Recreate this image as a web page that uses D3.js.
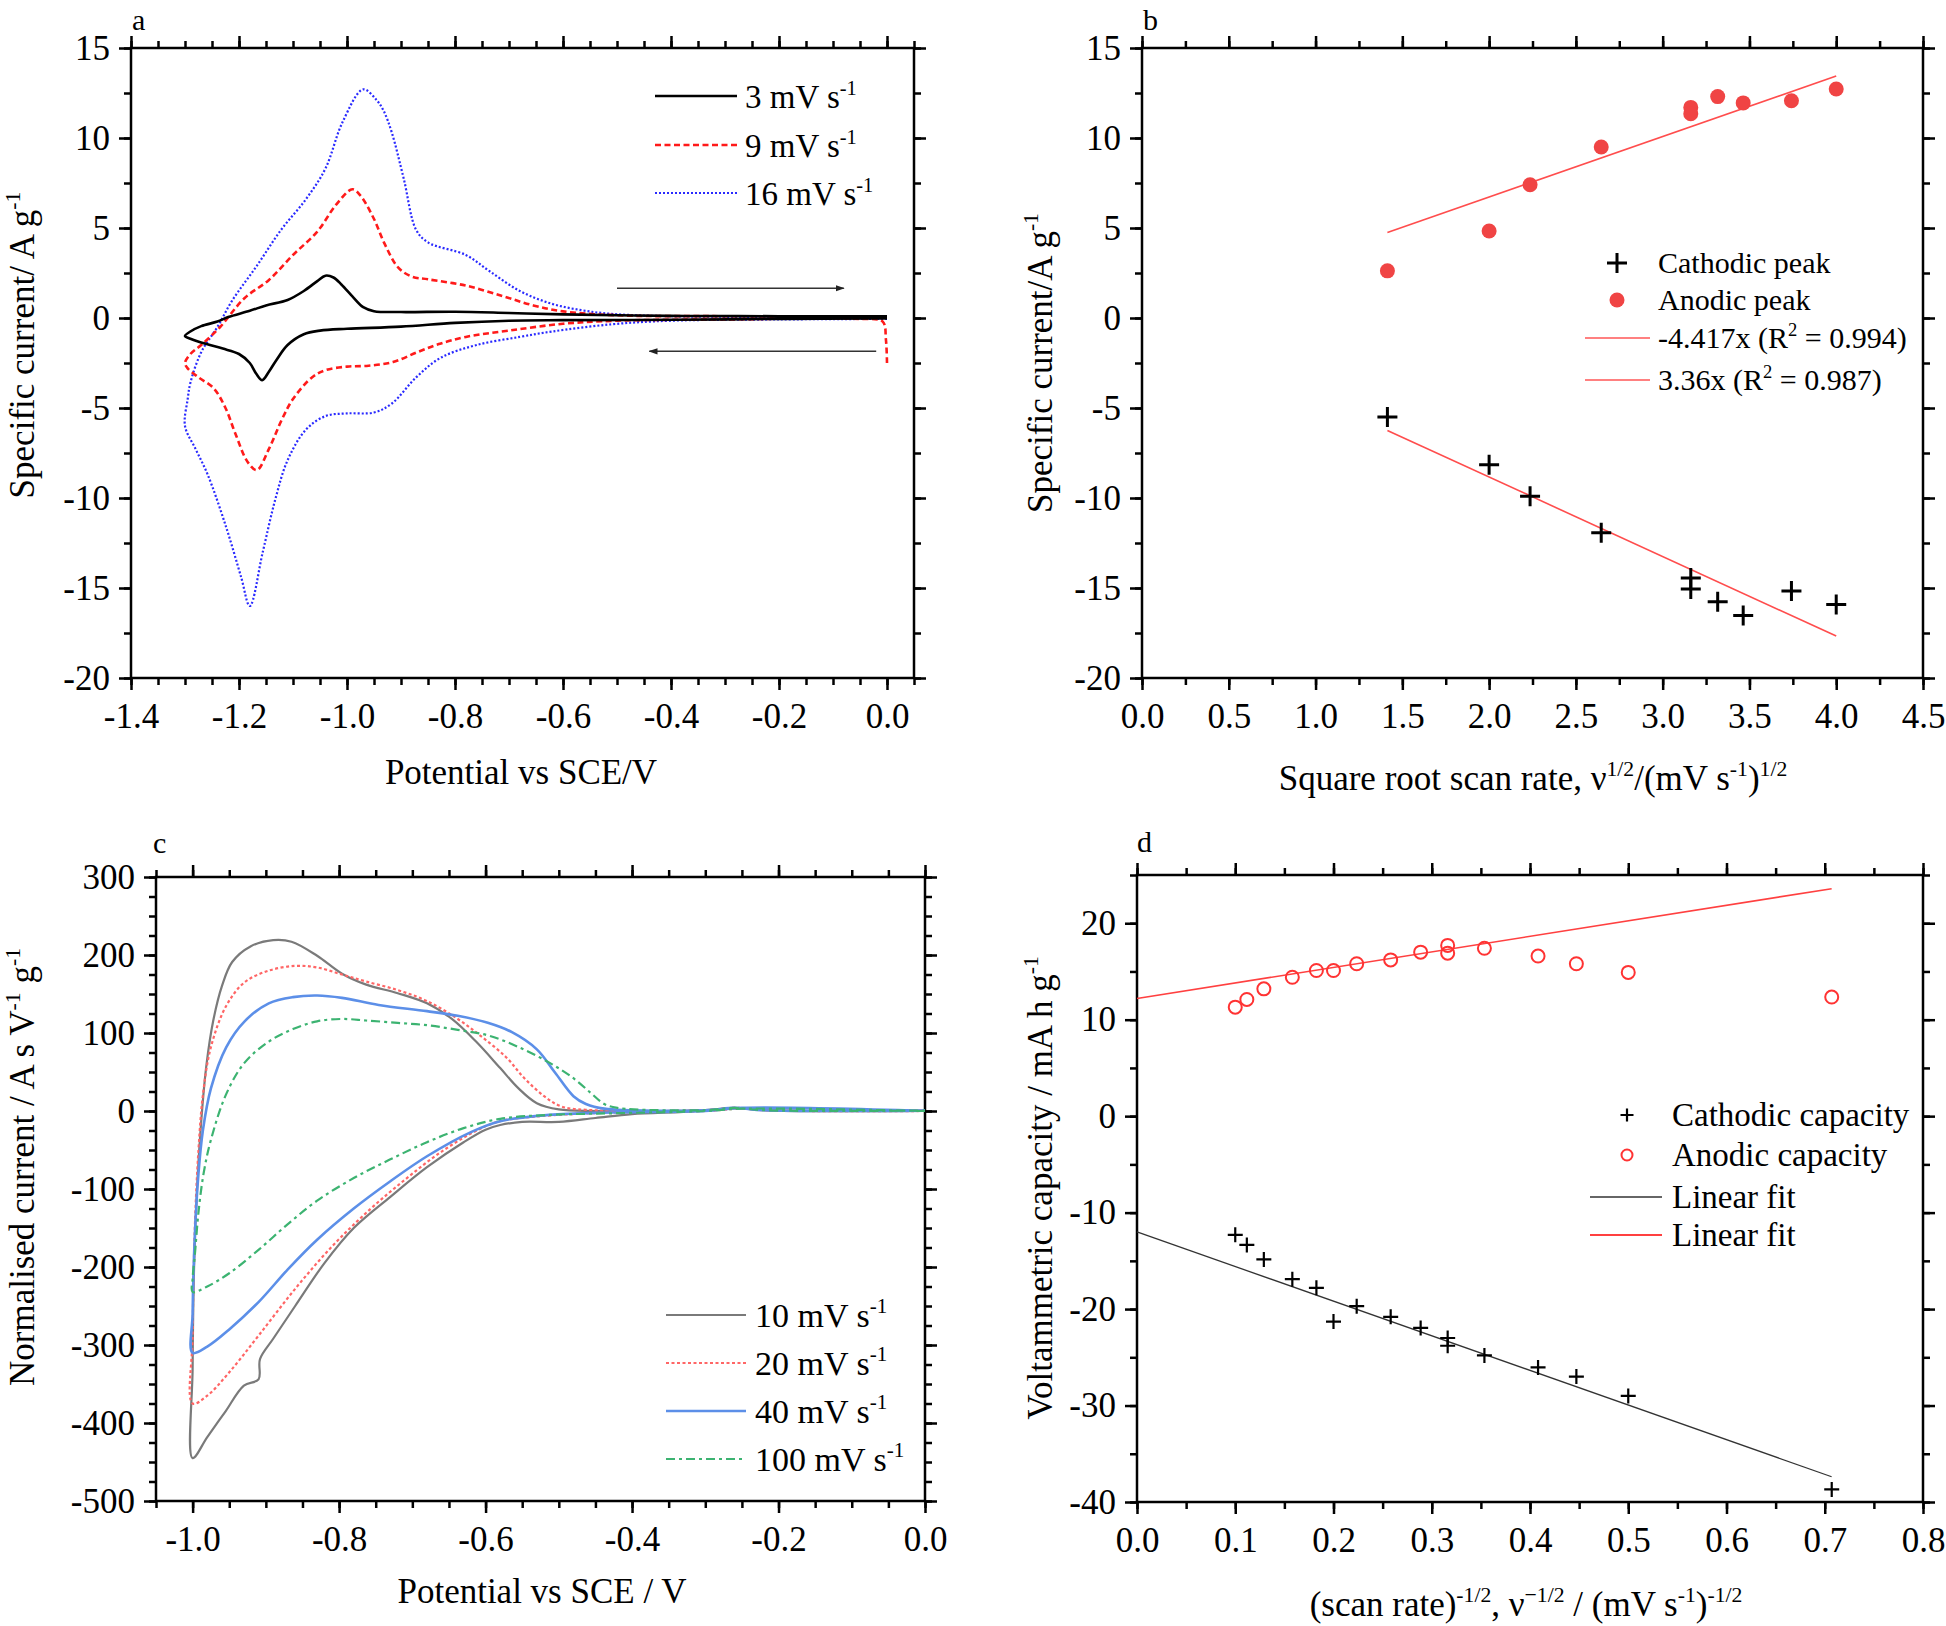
<!DOCTYPE html>
<html>
<head>
<meta charset="utf-8">
<script src="https://cdn.jsdelivr.net/npm/d3@7"></script>
<style>
  body { margin: 0; background: #fff; }
  svg { display: block; font-family: "Liberation Serif", "Times New Roman", serif; }
</style>
</head>
<body>
<div id="chart"></div>
<script>
// ---------- panel a : CV at 3, 9, 16 mV/s ([potential V, current A/g]) ----------
const aXTicks = [-1.4, -1.2, -1.0, -0.8, -0.6, -0.4, -0.2, 0.0];
const aYTicks = [-20, -15, -10, -5, 0, 5, 10, 15];
const aLabels = ['3', '9', '16'];
const cv3 = [
  [0, -0.02], [-0.2, -0.05], [-0.4, -0.1], [-0.6, -0.12], [-0.7, -0.15], [-0.8, -0.27], [-0.9, -0.48],
  [-1.0, -0.6], [-1.05, -0.7], [-1.08, -0.9], [-1.11, -1.5], [-1.13, -2.3], [-1.145, -3.0], [-1.157, -3.45],
  [-1.168, -3.1], [-1.18, -2.5], [-1.2, -2.0], [-1.23, -1.7], [-1.26, -1.45], [-1.29, -1.15], [-1.3, -1.0],
  [-1.29, -0.75], [-1.27, -0.45], [-1.24, -0.2], [-1.22, 0.05], [-1.18, 0.4], [-1.15, 0.7], [-1.11, 1.0],
  [-1.08, 1.5], [-1.055, 2.05], [-1.04, 2.35], [-1.025, 2.25], [-1.01, 1.85], [-0.99, 1.2], [-0.97, 0.6],
  [-0.95, 0.38], [-0.9, 0.33], [-0.8, 0.35], [-0.7, 0.28], [-0.6, 0.2], [-0.4, 0.12], [-0.2, 0.1], [0, 0.1]
];
const cv9 = [
  [0.0, -2.5], [-0.002, -1.2], [-0.008, -0.2], [-0.05, -0.05], [-0.3, -0.08], [-0.5, -0.15], [-0.6, -0.32],
  [-0.7, -0.7], [-0.78, -1.05], [-0.83, -1.45], [-0.87, -1.9], [-0.915, -2.45], [-0.96, -2.65], [-1.0, -2.7],
  [-1.04, -2.9], [-1.065, -3.3], [-1.1, -4.5], [-1.12, -5.6], [-1.145, -7.3], [-1.167, -8.45], [-1.184, -8.0],
  [-1.207, -6.4], [-1.225, -5.0], [-1.247, -3.9], [-1.275, -3.3], [-1.295, -2.8], [-1.3, -2.5],
  [-1.29, -2.0], [-1.27, -1.5], [-1.235, -0.5], [-1.19, 1.1], [-1.145, 2.1], [-1.1, 3.5], [-1.055, 4.8],
  [-1.02, 6.3], [-0.99, 7.15], [-0.975, 6.8], [-0.95, 5.5], [-0.93, 4.1], [-0.905, 2.8], [-0.88, 2.3],
  [-0.85, 2.15], [-0.78, 1.8], [-0.71, 1.2], [-0.655, 0.7], [-0.6, 0.37], [-0.5, 0.15], [-0.3, 0.1], [0, 0.1]
];
const cv16 = [
  [0, -0.05], [-0.2, -0.08], [-0.4, -0.15], [-0.51, -0.35], [-0.62, -0.75], [-0.68, -1.05], [-0.76, -1.5],
  [-0.826, -2.2], [-0.872, -3.3], [-0.917, -4.75], [-0.95, -5.25], [-1.0, -5.3], [-1.04, -5.45], [-1.076, -6.2],
  [-1.11, -7.9], [-1.133, -10.1], [-1.156, -13.0], [-1.18, -16.0], [-1.196, -14.4], [-1.224, -11.6],
  [-1.258, -8.7], [-1.28, -7.3], [-1.3, -6.0],
  [-1.295, -4.5], [-1.29, -3.6], [-1.27, -1.9], [-1.24, -0.5], [-1.213, 0.95], [-1.167, 2.9], [-1.122, 4.9],
  [-1.076, 6.6], [-1.04, 8.3], [-1.008, 10.9], [-0.97, 12.7], [-0.945, 12.1], [-0.932, 11.5], [-0.917, 10.3],
  [-0.895, 7.75], [-0.872, 4.9], [-0.85, 4.2], [-0.78, 3.5], [-0.736, 2.6], [-0.68, 1.5], [-0.622, 0.8],
  [-0.565, 0.43], [-0.51, 0.23], [-0.4, 0.1], [0, 0.05]
];
// scan direction arrows: [x1, x2, y]
const aArrows = [[-0.5, -0.08, 1.65], [-0.02, -0.44, -1.85]];

// ---------- panel b : peak current vs sqrt(scan rate) ----------
const bXTicks = [0, 0.5, 1.0, 1.5, 2.0, 2.5, 3.0, 3.5, 4.0, 4.5];
const bYTicks = [-20, -15, -10, -5, 0, 5, 10, 15];
const bRootRate = [1.414, 2.0, 2.236, 2.646, 3.162, 3.162, 3.317, 3.464, 3.742, 4.0];
const bAnodic = [2.62, 4.83, 7.4, 9.5, 11.7, 11.35, 12.3, 11.95, 12.07, 12.72];
const bCathodic = [-5.5, -8.15, -9.9, -11.93, -14.45, -15.05, -15.77, -16.53, -15.17, -15.92];
const bFitSlopes = [-4.417, 3.36];
const bFitRange = [1.414, 4.0];
const bFitLabels = ['-4.417x (R', '3.36x (R'];
const bFitR2 = ['0.994', '0.987'];

// ---------- panel c : normalised CV at 10, 20, 40, 100 mV/s ----------
const cXTicks = [-1.0, -0.8, -0.6, -0.4, -0.2, 0.0];
const cYTicks = [-500, -400, -300, -200, -100, 0, 100, 200, 300];
const cLabels = ['10', '20', '40', '100'];
const cv10 = [
  [0, 0], [-0.2, 0.5], [-0.25, 3.5], [-0.28, 2], [-0.33, -1], [-0.4, -4], [-0.45, -9], [-0.5, -14], [-0.55, -14],
  [-0.58, -18], [-0.6, -24], [-0.63, -40], [-0.68, -72], [-0.73, -110], [-0.78, -150], [-0.82, -195],
  [-0.86, -250], [-0.89, -292], [-0.908, -318], [-0.91, -344], [-0.93, -352], [-0.955, -385], [-0.98, -418],
  [-1.0, -445],
  [-1.0, -330], [-0.998, -200], [-0.994, -100], [-0.988, -10], [-0.981, 60], [-0.972, 115], [-0.96, 160],
  [-0.946, 191], [-0.921, 211], [-0.89, 219], [-0.865, 217], [-0.83, 199], [-0.796, 176], [-0.763, 162],
  [-0.72, 151], [-0.68, 138], [-0.646, 118], [-0.613, 89], [-0.58, 55], [-0.555, 29], [-0.53, 10], [-0.5, 2],
  [-0.45, 0], [-0.3, 1], [-0.26, 4], [-0.22, 1], [0, 0.5]
];
const cv20 = [
  [0, 0], [-0.2, 0.5], [-0.25, 3], [-0.3, 0], [-0.43, -2], [-0.53, -7], [-0.58, -13], [-0.61, -24], [-0.66, -52],
  [-0.71, -88], [-0.76, -128], [-0.81, -174], [-0.86, -228], [-0.91, -288], [-0.95, -335], [-0.98, -365],
  [-1.0, -375],
  [-1.0, -290], [-0.997, -150], [-0.992, -50], [-0.986, 20], [-0.975, 82], [-0.954, 135], [-0.929, 165],
  [-0.896, 180], [-0.86, 186], [-0.83, 184], [-0.796, 175], [-0.763, 166], [-0.72, 155], [-0.68, 141],
  [-0.638, 118], [-0.605, 95], [-0.572, 69], [-0.547, 42], [-0.52, 19], [-0.497, 6], [-0.463, 1.5], [-0.3, 1],
  [-0.26, 4], [-0.22, 1], [0, 0.5]
];
const cv40 = [
  [0, 0], [-0.25, 4], [-0.3, 0], [-0.43, -2], [-0.513, -5], [-0.58, -13], [-0.62, -27], [-0.68, -58],
  [-0.73, -90], [-0.78, -125], [-0.83, -165], [-0.87, -203], [-0.91, -245], [-0.95, -280], [-0.98, -302],
  [-1.0, -310],
  [-1.0, -260], [-0.997, -160], [-0.992, -80], [-0.986, -25], [-0.975, 29], [-0.954, 82], [-0.929, 115],
  [-0.896, 138], [-0.863, 146], [-0.83, 148], [-0.796, 145], [-0.746, 136], [-0.68, 128], [-0.638, 122],
  [-0.597, 113], [-0.564, 101], [-0.53, 79], [-0.505, 49], [-0.48, 19], [-0.463, 9], [-0.438, 3], [-0.3, 1],
  [-0.26, 4], [-0.22, 1], [0, 0.5]
];
const cv100 = [
  [0, 0], [-0.25, 3], [-0.3, 0], [-0.43, -3], [-0.513, -5], [-0.58, -10], [-0.63, -22], [-0.68, -40],
  [-0.73, -62], [-0.78, -86], [-0.83, -115], [-0.87, -145], [-0.91, -178], [-0.95, -208], [-0.98, -225],
  [-1.0, -232],
  [-1.0, -215], [-0.997, -185], [-0.992, -130], [-0.985, -80], [-0.975, -37], [-0.954, 22], [-0.929, 62],
  [-0.896, 89], [-0.863, 105], [-0.83, 115], [-0.796, 118], [-0.763, 116], [-0.72, 113], [-0.68, 110],
  [-0.638, 104], [-0.597, 97], [-0.555, 82], [-0.513, 62], [-0.48, 42], [-0.455, 22], [-0.438, 9], [-0.42, 4],
  [-0.3, 1], [-0.26, 4], [-0.22, 1], [0, 0.5]
];

// ---------- panel d : capacity vs 1/sqrt(scan rate) ----------
const dXTicks = [0, 0.1, 0.2, 0.3, 0.4, 0.5, 0.6, 0.7, 0.8];
const dYTicks = [-40, -30, -20, -10, 0, 10, 20];
const dInvRoot = [0.1, 0.1118, 0.1291, 0.1581, 0.1826, 0.2, 0.2236, 0.2582, 0.2887, 0.3162, 0.3162, 0.3536, 0.4082, 0.4472, 0.5, 0.7071];
const dAnodic = [11.3, 12.1, 13.2, 14.4, 15.1, 15.1, 15.8, 16.2, 17.0, 17.7, 16.9, 17.4, 16.6, 15.8, 14.9, 12.35];
const dCathodic = [-12.3, -13.35, -14.85, -16.9, -17.8, -21.3, -19.7, -20.8, -21.95, -23.0, -23.8, -24.8, -26.05, -27.0, -29.0, -38.7];
const dFitCathodic = [-12.0, -35.9];  // intercept, slope
const dFitAnodic = [12.2, 16.1];
const dFitRange = [0, 0.707];

// ---------- drawing ----------
const svg = d3.select('#chart').append('svg')
  .attr('width', 1946)
  .attr('height', 1626);

const TICK_FONT = 35;

function stepRange(domain, step) {
  const lo = Math.min(...domain), hi = Math.max(...domain);
  const out = [];
  for (let i = Math.ceil(lo / step - 1e-6); i * step <= hi + 1e-9; i++) out.push(+(i * step).toFixed(6));
  return out;
}

function cleanFormat(spec) {
  const f = d3.format(spec);
  return v => f(Math.abs(v) < 1e-9 ? 0 : v).replace('\u2212', '-');
}

function panel(cfg) {
  const x = d3.scaleLinear().domain(cfg.xDomain).range([cfg.box.l, cfg.box.r]);
  const y = d3.scaleLinear().domain(cfg.yDomain).range([cfg.box.b, cfg.box.t]);
  const g = svg.append('g');
  const xMinor = stepRange(cfg.xDomain, cfg.xMinor);
  const yMinor = stepRange(cfg.yDomain, cfg.yMinor);

  const sides = [
    { make: d3.axisBottom, s: x, pos: `translate(0,${cfg.box.b})`, major: cfg.xTicks, minor: xMinor, fmt: cleanFormat(cfg.xFmt), pad: 13 },
    { make: d3.axisTop, s: x, pos: `translate(0,${cfg.box.t})`, major: cfg.xTicks, minor: xMinor, fmt: null },
    { make: d3.axisLeft, s: y, pos: `translate(${cfg.box.l},0)`, major: cfg.yTicks, minor: yMinor, fmt: cleanFormat(cfg.yFmt), pad: 9 },
    { make: d3.axisRight, s: y, pos: `translate(${cfg.box.r},0)`, major: cfg.yTicks, minor: yMinor, fmt: null }
  ];

  sides.forEach(sd => {
    g.append('g')
      .attr('transform', sd.pos)
      .call(sd.make(sd.s).tickValues(sd.minor).tickSize(7).tickFormat(''))
      .call(a => a.select('.domain').remove());
    g.append('g')
      .attr('transform', sd.pos)
      .call(sd.make(sd.s).tickValues(sd.major).tickSize(12).tickPadding(sd.pad || 3)
        .tickFormat(sd.fmt ? sd.fmt : ''))
      .attr('font-family', null)
      .attr('font-size', TICK_FONT)
      .call(a => a.select('.domain').remove());
  });
  g.selectAll('.tick line').attr('stroke', '#000').attr('stroke-width', 2.5);
  g.selectAll('.tick text').attr('fill', '#000');

  g.append('rect')
    .attr('x', cfg.box.l).attr('y', cfg.box.t)
    .attr('width', cfg.box.r - cfg.box.l).attr('height', cfg.box.b - cfg.box.t)
    .attr('fill', 'none').attr('stroke', '#000').attr('stroke-width', 2.5);

  g.append('text')
    .attr('x', cfg.letter[0]).attr('y', cfg.letter[1])
    .attr('font-size', 30)
    .text(cfg.name);

  return { g, x, y };
}

// text with superscript parts: strings are normal, [str] are superscript
function rich(parent, parts, o) {
  const t = parent.append('text')
    .attr('x', o.x).attr('y', o.y)
    .attr('font-size', o.size)
    .attr('text-anchor', o.anchor || 'start')
    .attr('fill', '#000');
  if (o.rotate) t.attr('transform', `rotate(-90,${o.x},${o.y})`);
  const shift = o.size * 0.4;
  let up = false;
  parts.forEach(p => {
    const sup = Array.isArray(p);
    const s = t.append('tspan').text(sup ? p[0] : p);
    if (sup) {
      s.attr('font-size', o.size * 0.62);
      if (!up) { s.attr('dy', -shift); up = true; }
    } else if (up) {
      s.attr('dy', shift);
      up = false;
    }
  });
  return t;
}

function plusPath(r) {
  return `M${-r},0H${r}M0,${-r}V${r}`;
}

const cvLine = (x, y) => d3.line()
  .x(d => x(d[0]))
  .y(d => y(d[1]))
  .curve(d3.curveCatmullRom.alpha(0.5));

// ===== panel a =====
{
  const p = panel({
    name: 'a', letter: [132, 30],
    box: { l: 131, r: 914, t: 48, b: 678 },
    xDomain: [-1.4, 0.05], yDomain: [-20, 15],
    xTicks: aXTicks, yTicks: aYTicks, xMinor: 0.05, yMinor: 2.5,
    xFmt: '.1f', yFmt: 'd'
  });
  const styles = [
    { c: '#000', w: 2.6, dash: null },
    { c: '#ff1a1a', w: 2.6, dash: '6,3.5' },
    { c: '#2a2aff', w: 2.2, dash: '2,2' }
  ];
  const series = [cv3, cv9, cv16];
  const line = cvLine(p.x, p.y);
  series.slice().reverse().forEach((s, i) => {
    const st = styles[series.length - 1 - i];
    p.g.append('path').datum(s)
      .attr('fill', 'none').attr('stroke', st.c).attr('stroke-width', st.w)
      .attr('stroke-dasharray', st.dash).attr('d', line);
  });

  // arrows
  svg.append('defs').append('marker')
    .attr('id', 'arrowHead').attr('viewBox', '0 0 10 10')
    .attr('refX', 9).attr('refY', 5)
    .attr('markerWidth', 9).attr('markerHeight', 9)
    .attr('markerUnits', 'userSpaceOnUse')
    .attr('orient', 'auto')
    .append('path').attr('d', 'M0,1.5L10,5L0,8.5Z').attr('fill', '#222');
  aArrows.forEach(a => {
    p.g.append('line')
      .attr('x1', p.x(a[0])).attr('x2', p.x(a[1]))
      .attr('y1', p.y(a[2])).attr('y2', p.y(a[2]))
      .attr('stroke', '#333').attr('stroke-width', 1.6)
      .attr('marker-end', 'url(#arrowHead)');
  });

  const rows = [96, 145, 193];
  aLabels.forEach((lab, i) => {
    const st = styles[i];
    p.g.append('line')
      .attr('x1', 655).attr('x2', 737).attr('y1', rows[i]).attr('y2', rows[i])
      .attr('stroke', st.c).attr('stroke-width', st.w).attr('stroke-dasharray', st.dash);
    rich(p.g, [lab + ' mV s', ['-1']], { x: 745, y: rows[i] + 12, size: 33 });
  });

  rich(svg, ['Potential vs SCE/V'], { x: 521, y: 784, size: 35, anchor: 'middle' });
  rich(svg, ['Specific current/ A g', ['-1']], { x: 34, y: 345, size: 35, anchor: 'middle', rotate: true });
}

// ===== panel b =====
{
  const p = panel({
    name: 'b', letter: [1143, 30],
    box: { l: 1142, r: 1923, t: 48, b: 678 },
    xDomain: [0, 4.5], yDomain: [-20, 15],
    xTicks: bXTicks, yTicks: bYTicks, xMinor: 0.25, yMinor: 2.5,
    xFmt: '.1f', yFmt: 'd'
  });
  bFitSlopes.forEach(k => {
    p.g.append('line')
      .attr('x1', p.x(bFitRange[0])).attr('y1', p.y(k * bFitRange[0]))
      .attr('x2', p.x(bFitRange[1])).attr('y2', p.y(k * bFitRange[1]))
      .attr('stroke', '#ff4d4d').attr('stroke-width', 1.6);
  });
  p.g.selectAll('.anodic').data(bRootRate).enter().append('circle')
    .attr('cx', d => p.x(d)).attr('cy', (d, i) => p.y(bAnodic[i]))
    .attr('r', 7.5).attr('fill', '#f04444');
  p.g.selectAll('.cathodic').data(bRootRate).enter().append('path')
    .attr('transform', (d, i) => `translate(${p.x(d)},${p.y(bCathodic[i])})`)
    .attr('d', plusPath(10)).attr('stroke', '#000').attr('stroke-width', 3);

  // legend
  p.g.append('path').attr('transform', 'translate(1617,263)').attr('d', plusPath(10))
    .attr('stroke', '#000').attr('stroke-width', 3);
  p.g.append('circle').attr('cx', 1617).attr('cy', 300).attr('r', 7.5).attr('fill', '#f04444');
  rich(p.g, ['Cathodic peak'], { x: 1658, y: 273, size: 30 });
  rich(p.g, ['Anodic peak'], { x: 1658, y: 310, size: 30 });
  [338, 380].forEach((yy, i) => {
    p.g.append('line').attr('x1', 1585).attr('x2', 1650).attr('y1', yy).attr('y2', yy)
      .attr('stroke', '#ff8080').attr('stroke-width', 2);
    rich(p.g, [bFitLabels[i], ['2'], ' = ' + bFitR2[i] + ')'], { x: 1658, y: yy + 10, size: 30 });
  });

  rich(svg, ['Square root scan rate, \u03bd', ['1/2'], '/(mV s', ['-1'], ')', ['1/2']], { x: 1533, y: 790, size: 35, anchor: 'middle' });
  rich(svg, ['Specific current/A g', ['-1']], { x: 1052, y: 363, size: 35, anchor: 'middle', rotate: true });
}

// ===== panel c =====
{
  const p = panel({
    name: 'c', letter: [153, 853],
    box: { l: 156, r: 925, t: 877, b: 1501 },
    xDomain: [-1.05, 0], yDomain: [-500, 300],
    xTicks: cXTicks, yTicks: cYTicks, xMinor: 0.05, yMinor: 25,
    xFmt: '.1f', yFmt: 'd'
  });
  const styles = [
    { c: '#7a7a7a', w: 2.2, dash: null },
    { c: '#ff6666', w: 2.2, dash: '3,2.5' },
    { c: '#5c8fe8', w: 2.6, dash: null },
    { c: '#3cb371', w: 2.2, dash: '9,4,3,4' }
  ];
  const series = [cv10, cv20, cv40, cv100];
  const line = cvLine(p.x, p.y);
  series.forEach((s, i) => {
    const st = styles[i];
    p.g.append('path').datum(s)
      .attr('fill', 'none').attr('stroke', st.c).attr('stroke-width', st.w)
      .attr('stroke-dasharray', st.dash).attr('d', line);
  });
  const rows = [1315, 1363, 1411, 1459];
  cLabels.forEach((lab, i) => {
    const st = styles[i];
    p.g.append('line')
      .attr('x1', 666).attr('x2', 746).attr('y1', rows[i]).attr('y2', rows[i])
      .attr('stroke', st.c).attr('stroke-width', st.w).attr('stroke-dasharray', st.dash);
    rich(p.g, [lab + ' mV s', ['-1']], { x: 755, y: rows[i] + 12, size: 34 });
  });

  rich(svg, ['Potential vs SCE / V'], { x: 542, y: 1603, size: 35, anchor: 'middle' });
  rich(svg, ['Normalised current / A s V', ['-1'], ' g', ['-1']], { x: 34, y: 1167, size: 35, anchor: 'middle', rotate: true });
}

// ===== panel d =====
{
  const p = panel({
    name: 'd', letter: [1137, 852],
    box: { l: 1137, r: 1923, t: 875, b: 1502 },
    xDomain: [0, 0.8], yDomain: [-40, 25],
    xTicks: dXTicks, yTicks: dYTicks, xMinor: 0.05, yMinor: 5,
    xFmt: '.1f', yFmt: 'd'
  });
  [[dFitCathodic, '#333', 1.3], [dFitAnodic, '#ff4040', 1.6]].forEach(([f, c, w]) => {
    p.g.append('line')
      .attr('x1', p.x(dFitRange[0])).attr('y1', p.y(f[0] + f[1] * dFitRange[0]))
      .attr('x2', p.x(dFitRange[1])).attr('y2', p.y(f[0] + f[1] * dFitRange[1]))
      .attr('stroke', c).attr('stroke-width', w);
  });
  p.g.selectAll('.anodic').data(dInvRoot).enter().append('circle')
    .attr('cx', d => p.x(d)).attr('cy', (d, i) => p.y(dAnodic[i]))
    .attr('r', 6.5).attr('fill', 'none').attr('stroke', '#ff3333').attr('stroke-width', 2);
  p.g.selectAll('.cathodic').data(dInvRoot).enter().append('path')
    .attr('transform', (d, i) => `translate(${p.x(d)},${p.y(dCathodic[i])})`)
    .attr('d', plusPath(7.5)).attr('stroke', '#000').attr('stroke-width', 2.2);

  // legend
  p.g.append('path').attr('transform', 'translate(1627,1115)').attr('d', plusPath(6.5))
    .attr('stroke', '#000').attr('stroke-width', 2.2);
  p.g.append('circle').attr('cx', 1627).attr('cy', 1155).attr('r', 5.5)
    .attr('fill', 'none').attr('stroke', '#ff3333').attr('stroke-width', 2);
  rich(p.g, ['Cathodic capacity'], { x: 1672, y: 1126, size: 33 });
  rich(p.g, ['Anodic capacity'], { x: 1672, y: 1166, size: 33 });
  [[1197, '#333', 1.5], [1235, '#ff4040', 2]].forEach(([yy, c, w]) => {
    p.g.append('line').attr('x1', 1590).attr('x2', 1662).attr('y1', yy).attr('y2', yy)
      .attr('stroke', c).attr('stroke-width', w);
    rich(p.g, ['Linear fit'], { x: 1672, y: yy + 11, size: 33 });
  });

  rich(svg, ['(scan rate)', ['-1/2'], ', \u03bd', ['\u22121/2'], ' / (mV s', ['-1'], ')', ['-1/2']], { x: 1526, y: 1616, size: 35, anchor: 'middle' });
  rich(svg, ['Voltammetric capacity / mA h g', ['-1']], { x: 1052, y: 1188, size: 35, anchor: 'middle', rotate: true });
}
</script>
</body>
</html>
